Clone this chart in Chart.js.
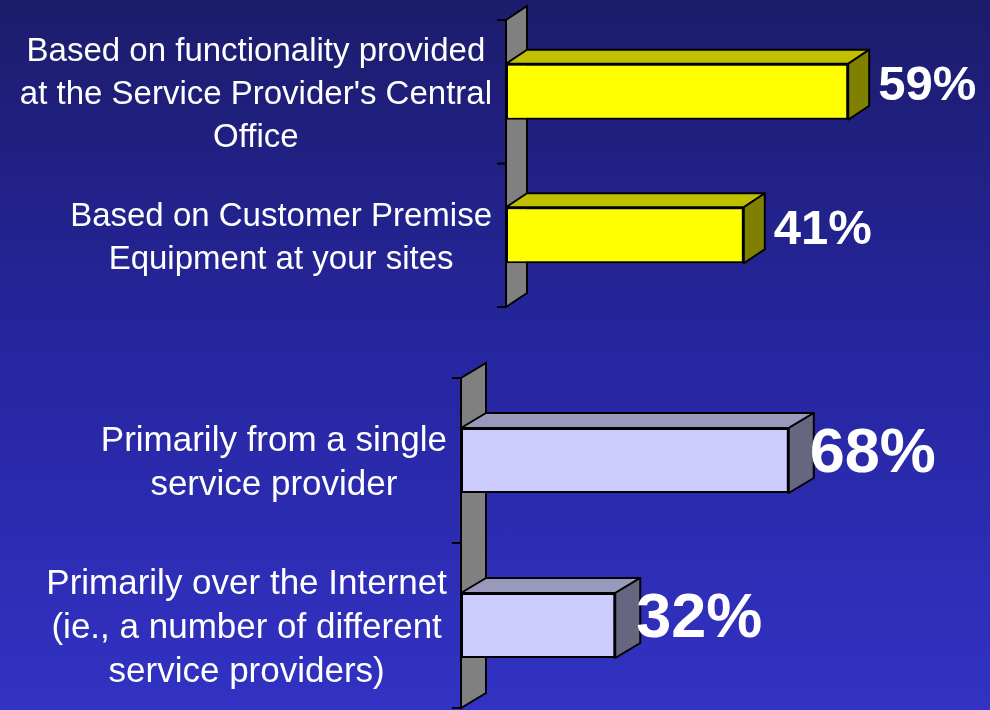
<!DOCTYPE html>
<html>
<head>
<meta charset="utf-8">
<script src="https://cdn.jsdelivr.net/npm/chart.js@4.4.0/dist/chart.umd.min.js"></script>
<style>
  html, body { margin: 0; padding: 0; }
  body {
    width: 990px; height: 710px; overflow: hidden; position: relative;
    background: linear-gradient(to bottom, #1c1c6c 0%, #2626a0 50%, #3232c4 100%);
  }
  canvas { position: absolute; left: 0; }
  #topChart { top: 0; }
  #bottomChart { top: 340px; }
</style>
</head>
<body>
<canvas id="topChart" width="990" height="330"></canvas>
<canvas id="bottomChart" width="990" height="370"></canvas>
<script>
// Top chart: where the functionality lives
const topCategories = [
    ['Based on functionality provided', "at the Service Provider's Central", 'Office'],
    ['Based on Customer Premise', 'Equipment at your sites']
];
const topValues = [59, 41];

// Bottom chart: how services are delivered
const bottomCategories = [
    ['Primarily from a single', 'service provider'],
    ['Primarily over the Internet', '(ie., a number of different', 'service providers)']
];
const bottomValues = [68, 32];

const FONT_FAMILY = '"Liberation Sans", Arial, sans-serif';

// draws the grey wall, the top/side faces of each bar, and all the text
function fake3d(opts) {
    return {
        id: 'fake3d',
        beforeDatasetsDraw(chart) {
            const { ctx, chartArea } = chart;
            const x0 = chart.scales.x.getPixelForValue(0);
            const { dx, dy } = opts;
            ctx.save();
            ctx.beginPath();
            ctx.moveTo(x0, chartArea.top);
            ctx.lineTo(x0 + dx, chartArea.top + dy);
            ctx.lineTo(x0 + dx, chartArea.bottom + dy);
            ctx.lineTo(x0, chartArea.bottom);
            ctx.closePath();
            ctx.fillStyle = '#808080';
            ctx.fill();
            ctx.strokeStyle = '#000';
            ctx.lineWidth = 2;
            ctx.stroke();

            // tick marks on the category boundaries
            const n = chart.data.labels.length;
            for (let i = 0; i <= n; i++) {
                const y = chartArea.top + i * (chartArea.bottom - chartArea.top) / n;
                ctx.beginPath();
                ctx.moveTo(x0 - 9, y);
                ctx.lineTo(x0, y);
                ctx.stroke();
            }
            ctx.restore();
        },
        afterDatasetsDraw(chart) {
            const { ctx } = chart;
            const { dx, dy } = opts;
            const meta = chart.getDatasetMeta(0);
            ctx.save();
            ctx.strokeStyle = '#000';
            ctx.lineWidth = 2;
            ctx.lineJoin = 'round';
            meta.data.forEach((bar, i) => {
                const p = bar.getProps(['x', 'y', 'base', 'height'], true);
                const x0 = p.base, x1 = p.x;
                const yT = p.y - p.height / 2, yB = p.y + p.height / 2;

                ctx.beginPath();
                ctx.moveTo(x0, yT);
                ctx.lineTo(x0 + dx, yT + dy);
                ctx.lineTo(x1 + dx, yT + dy);
                ctx.lineTo(x1, yT);
                ctx.closePath();
                ctx.fillStyle = opts.topColor;
                ctx.fill();
                ctx.stroke();

                ctx.beginPath();
                ctx.moveTo(x1, yT);
                ctx.lineTo(x1 + dx, yT + dy);
                ctx.lineTo(x1 + dx, yB + dy);
                ctx.lineTo(x1, yB);
                ctx.closePath();
                ctx.fillStyle = opts.sideColor;
                ctx.fill();
                ctx.stroke();

                // value label
                const v = chart.data.datasets[0].data[i];
                ctx.fillStyle = '#fff';
                ctx.font = 'bold ' + opts.valueSize + 'px ' + FONT_FAMILY;
                ctx.textAlign = 'left';
                ctx.textBaseline = 'middle';
                ctx.fillText(v + '%', x1 + dx + opts.valueGap, p.y + dy / 2 + 2);

                // category label: lines centred on each other, block right aligned
                const lines = chart.data.labels[i];
                ctx.font = opts.labelSize + 'px ' + FONT_FAMILY;
                const w = Math.max(...lines.map(s => ctx.measureText(s).width));
                const cx = opts.labelRight - w / 2;
                ctx.textAlign = 'center';
                const lh = opts.lineHeight;
                const y0 = p.y - (lines.length - 1) * lh / 2;
                lines.forEach((s, k) => ctx.fillText(s, cx, y0 + k * lh + 3));
            });
            ctx.restore();
        }
    };
}

function makeChart(id, labels, values, style) {
    return new Chart(document.getElementById(id), {
        type: 'bar',
        data: {
            labels: labels,
            datasets: [{
                data: values,
                backgroundColor: style.frontColor,
                borderColor: '#000',
                borderWidth: 2,
                borderSkipped: false,
                barPercentage: style.barPct,
                categoryPercentage: 1
            }]
        },
        options: {
            indexAxis: 'y',
            responsive: false,
            animation: false,
            devicePixelRatio: 1,
            layout: { padding: style.padding },
            plugins: { legend: { display: false }, tooltip: { enabled: false } },
            scales: {
                x: { display: false, min: 0, max: style.max },
                y: { display: false }
            }
        },
        plugins: [fake3d(style)]
    });
}

makeChart('topChart', topCategories, topValues, {
    frontColor: '#ffff00', topColor: '#c0c000', sideColor: '#808000',
    barPct: 0.39, max: 80, dx: 21, dy: -14,
    padding: { left: 506, right: 20, top: 20, bottom: 23 },
    valueSize: 49, valueGap: 9, labelRight: 492, labelSize: 33, lineHeight: 43
});

makeChart('bottomChart', bottomCategories, bottomValues, {
    frontColor: '#ccccff', topColor: '#9999bb', sideColor: '#666680',
    barPct: 0.394, max: 100, dx: 25, dy: -15,
    padding: { left: 461, right: 47, top: 38, bottom: 2 },
    valueSize: 63, valueGap: -4, labelRight: 447, labelSize: 35, lineHeight: 44
});
</script>
</body>
</html>
